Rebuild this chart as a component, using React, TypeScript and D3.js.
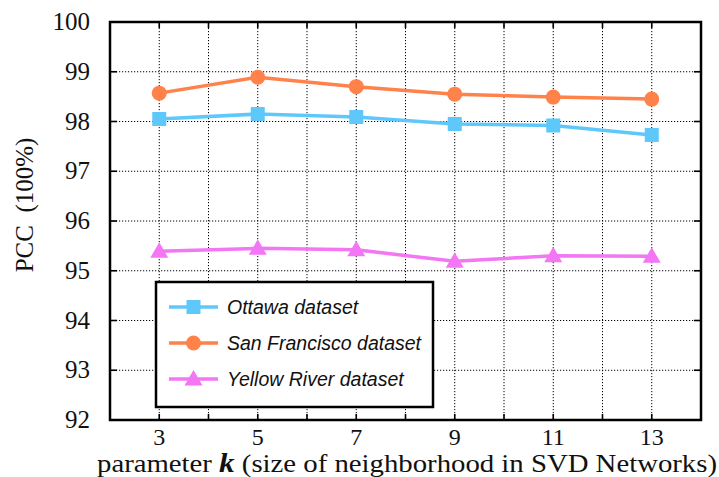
import React, { useEffect, useRef } from "react";
import * as d3 from "d3";

const kValues = [3, 5, 7, 9, 11, 13];
const ottawa = [98.05, 98.15, 98.09, 97.95, 97.92, 97.73];
const sanFrancisco = [98.57, 98.89, 98.7, 98.55, 98.49, 98.45];
const yellowRiver = [95.39, 95.45, 95.42, 95.19, 95.3, 95.29];
const yTicks = [92, 93, 94, 95, 96, 97, 98, 99, 100];

const seriesList = [
  { name: "Ottawa dataset", values: ottawa, color: "#5ec8fb", marker: "square" },
  { name: "San Francisco dataset", values: sanFrancisco, color: "#ff824a", marker: "circle" },
  { name: "Yellow River dataset", values: yellowRiver, color: "#f376f5", marker: "triangle" },
];

const width = 719;
const height = 477;
const margin = { left: 110, right: 18, top: 22, bottom: 57 };

const App = () => {
  const svgRef = useRef<SVGSVGElement>(null);

  useEffect(() => {
    const svg = d3.select(svgRef.current);
    svg.selectAll("*").remove();

    const x = d3.scaleLinear().domain([2, 14]).range([margin.left, width - margin.right]);
    const y = d3.scaleLinear().domain([92, 100]).range([height - margin.bottom, margin.top]);
    const [x0, x1] = x.range();
    const [y0, y1] = y.range();

    // dotted grid
    const grid = svg.append("g");
    grid
      .selectAll("line.v")
      .data(d3.range(3, 14))
      .enter()
      .append("line")
      .attr("x1", (d) => x(d))
      .attr("x2", (d) => x(d))
      .attr("y1", y1)
      .attr("y2", y0)
      .attr("stroke", "#000")
      .attr("stroke-width", 1)
      .attr("stroke-dasharray", "1.2,1.8");
    grid
      .selectAll("line.h")
      .data(yTicks.slice(1, -1))
      .enter()
      .append("line")
      .attr("x1", x0)
      .attr("x2", x1)
      .attr("y1", (d) => y(d))
      .attr("y2", (d) => y(d))
      .attr("stroke", "#000")
      .attr("stroke-width", 1)
      .attr("stroke-dasharray", "1.2,1.8");

    // inner ticks on all four sides
    const ticks = svg.append("g").attr("stroke", "#000").attr("stroke-width", 1.6);
    d3.range(3, 14).forEach((d) => {
      ticks.append("line").attr("x1", x(d)).attr("x2", x(d)).attr("y1", y0).attr("y2", y0 - 6);
      ticks.append("line").attr("x1", x(d)).attr("x2", x(d)).attr("y1", y1).attr("y2", y1 + 6);
    });
    yTicks.slice(1, -1).forEach((d) => {
      ticks.append("line").attr("x1", x0).attr("x2", x0 + 7).attr("y1", y(d)).attr("y2", y(d));
      ticks.append("line").attr("x1", x1).attr("x2", x1 - 7).attr("y1", y(d)).attr("y2", y(d));
    });

    // frame
    svg
      .append("rect")
      .attr("x", x0)
      .attr("y", y1)
      .attr("width", x1 - x0)
      .attr("height", y0 - y1)
      .attr("fill", "none")
      .attr("stroke", "#000")
      .attr("stroke-width", 2.5);

    const drawMarker = (g: any, kind: string, cx: number, cy: number, color: string) => {
      if (kind === "square") {
        g.append("rect")
          .attr("x", cx - 7)
          .attr("y", cy - 7)
          .attr("width", 14)
          .attr("height", 14)
          .attr("fill", color);
      } else if (kind === "circle") {
        g.append("circle").attr("cx", cx).attr("cy", cy).attr("r", 7.5).attr("fill", color);
      } else {
        g.append("path")
          .attr("d", `M${cx},${cy - 9}L${cx + 9},${cy + 6.5}L${cx - 9},${cy + 6.5}Z`)
          .attr("fill", color);
      }
    };

    const line = d3
      .line<number>()
      .x((_, i) => x(kValues[i]))
      .y((d) => y(d));

    seriesList.forEach((s) => {
      const g = svg.append("g");
      g.append("path")
        .attr("d", line(s.values))
        .attr("fill", "none")
        .attr("stroke", s.color)
        .attr("stroke-width", 3.5);
      s.values.forEach((v, i) => drawMarker(g, s.marker, x(kValues[i]), y(v), s.color));
    });

    // legend
    const lg = svg.append("g");
    lg.append("rect")
      .attr("x", 156)
      .attr("y", 282)
      .attr("width", 277)
      .attr("height", 125)
      .attr("fill", "#fff")
      .attr("stroke", "#000")
      .attr("stroke-width", 2.5);
    seriesList.forEach((s, i) => {
      const ly = 307 + i * 36;
      lg.append("line")
        .attr("x1", 169)
        .attr("x2", 218)
        .attr("y1", ly)
        .attr("y2", ly)
        .attr("stroke", s.color)
        .attr("stroke-width", 3.5);
      drawMarker(lg, s.marker, 193.5, ly, s.color);
      lg.append("text")
        .attr("x", 227)
        .attr("y", ly + 7)
        .attr("font-family", "'Liberation Sans', Arial, sans-serif")
        .attr("font-style", "italic")
        .attr("font-size", 19.5)
        .attr("fill", "#111")
        .text(s.name);
    });

    const serif = "'Liberation Serif', 'Times New Roman', serif";

    // y tick labels
    svg
      .append("g")
      .selectAll("text")
      .data(yTicks)
      .enter()
      .append("text")
      .attr("x", 90)
      .attr("y", (d) => y(d) + 8)
      .attr("text-anchor", "end")
      .attr("font-family", serif)
      .attr("font-size", 25)
      .attr("fill", "#111")
      .text((d) => d);

    // x tick labels
    svg
      .append("g")
      .selectAll("text")
      .data(kValues)
      .enter()
      .append("text")
      .attr("x", (d) => x(d))
      .attr("y", 445)
      .attr("text-anchor", "middle")
      .attr("font-family", serif)
      .attr("font-size", 24)
      .attr("fill", "#111")
      .text((d) => d);

    // axis titles
    const xt = svg
      .append("text")
      .attr("x", 97)
      .attr("y", 472)
      .attr("font-family", serif)
      .attr("font-size", 25)
      .attr("fill", "#111")
      .attr("textLength", 620)
      .attr("lengthAdjust", "spacingAndGlyphs");
    xt.append("tspan").text("parameter ");
    xt.append("tspan").attr("font-weight", "bold").attr("font-style", "italic").attr("font-size", 27).text("k");
    xt.append("tspan").text(" (size of neighborhood in SVD Networks)");

    svg
      .append("text")
      .attr("transform", "translate(33,205) rotate(-90)")
      .attr("text-anchor", "middle")
      .attr("font-family", serif)
      .attr("font-size", 25)
      .attr("fill", "#111")
      .attr("xml:space", "preserve")
      .style("white-space", "pre")
      .text("PCC  (100%)");
  }, []);

  return (
    <svg
      ref={svgRef}
      width={width}
      height={height}
      style={{ display: "block", position: "absolute", left: 0, top: 0 }}
    />
  );
};

export default App;
